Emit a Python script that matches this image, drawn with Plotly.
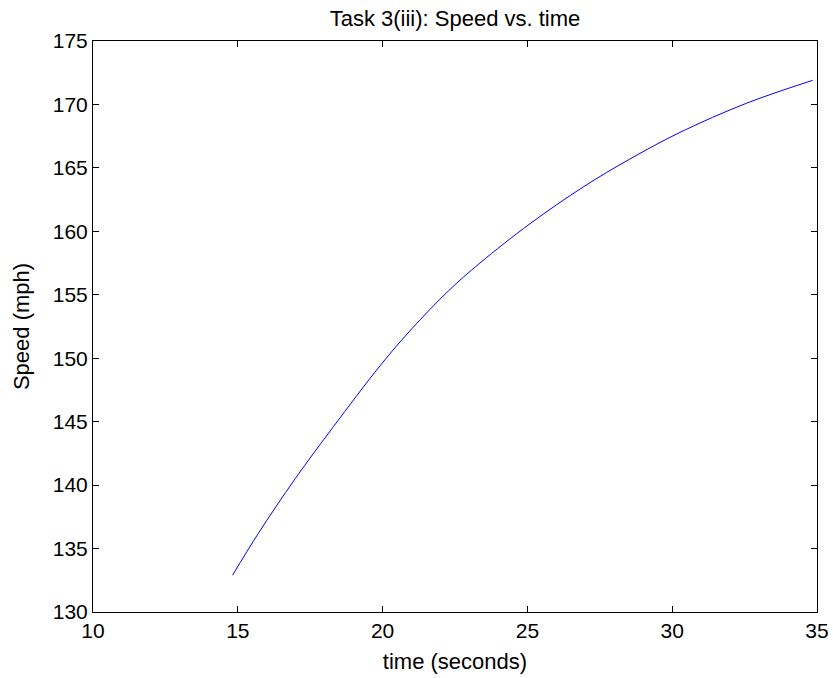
import plotly.graph_objects as go

time_s = [14.82, 15.71, 16.98, 18.3, 19.91, 21.0, 22.27, 23.36, 25.09, 26.93, 28.54, 30.27, 32.57, 34.85]
speed_mph = [132.9, 136.2, 140.5, 144.6, 149.4, 152.3, 155.3, 157.5, 160.6, 163.5, 165.7, 167.8, 170.1, 171.9]

x_ticks = [10, 15, 20, 25, 30, 35]
y_ticks = [130, 135, 140, 145, 150, 155, 160, 165, 170, 175]

FONT = "Liberation Sans, Arial, sans-serif"

fig = go.Figure()
fig.add_trace(go.Scatter(x=time_s, y=speed_mph, mode="lines",
                         line=dict(color="rgb(0,0,255)", width=1, shape="spline", smoothing=1),
                         showlegend=False))

axis_common = dict(showline=True, linecolor="black", linewidth=1, mirror="ticks",
                   ticks="inside", ticklen=6, tickcolor="black", showgrid=False,
                   zeroline=False, automargin=False,
                   tickfont=dict(family=FONT, size=21, color="black"))

fig.update_layout(
    width=833, height=678,
    margin=dict(l=93, r=16, t=41, b=66, autoexpand=False),
    paper_bgcolor="white", plot_bgcolor="white",
    title=dict(text="Task 3(iii): Speed vs. time", x=0.5462, xanchor="center",
               y=0.973, yanchor="middle", yref="container",
               font=dict(family=FONT, size=22, color="black")),
    xaxis=dict(range=[10, 35], tickvals=x_ticks, ticktext=[str(v) for v in x_ticks],
               title=dict(text="time (seconds)", standoff=12,
                          font=dict(family=FONT, size=22, color="black")),
               **axis_common),
    yaxis=dict(range=[130, 175], tickvals=y_ticks, ticktext=[str(v) for v in y_ticks],
               title=dict(text="Speed (mph)", standoff=17,
                          font=dict(family=FONT, size=22, color="black")),
               **axis_common),
)

fig.write_html("out.html")
